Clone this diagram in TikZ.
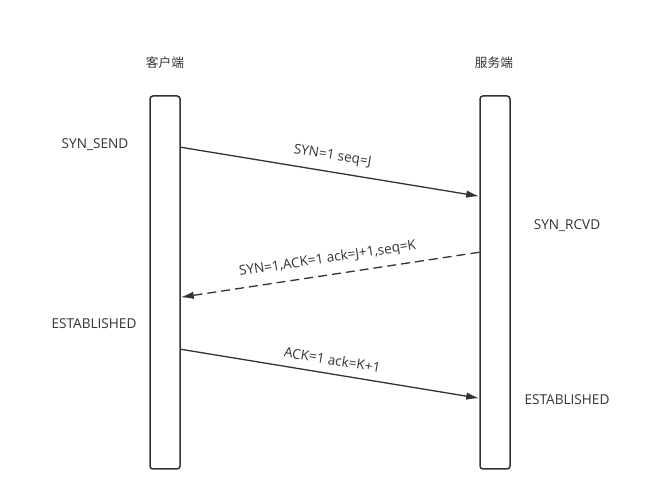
\documentclass[tikz,border=0pt]{standalone}
\usepackage{fontspec}
\setmainfont{Open Sans}
\newfontfamily\cjk{Noto Sans CJK SC}
\usetikzlibrary{arrows.meta}
\definecolor{ink}{HTML}{333333}
\tikzset{
  lifeline/.style = {draw = ink, line width = 1.5pt, rounded corners = 3pt,
    minimum width = 30pt, minimum height = 373pt, inner sep = 0pt},
  msg/.style = {ink, line width = 1.3pt, -{Latex[length = 13pt, width = 7.5pt]}},
  state/.style = {text = ink, font = \fontsize{13.6}{16}\selectfont},
  head/.style = {text = ink, font = \cjk\fontsize{12.7}{15}\selectfont},
  lbl/.style = {text = ink, font = \fontsize{13.6}{16}\selectfont, sloped, above = 5pt}
}

\begin{document}
\begin{tikzpicture}[x = 1pt, y = -1pt]
  \useasboundingbox (0, 0) rectangle (654, 502);
  \node (CT) at (165, 63) [head] {客户端};
  \node (ST) at (494, 63) [head] {服务端};
  \node (CL) at (165, 282.5) [lifeline] {};
  \node (SL) at (495, 282.5) [lifeline] {};
  \node (CA) at (95, 145) [state] {SYN\_SEND};
  \node (SA) at (567, 226) [state] {SYN\_RCVD};
  \node (CB) at (94, 324) [state] {ESTABLISHED};
  \node (SB) at (567, 400) [state] {ESTABLISHED};
  \draw [msg] ([yshift = -52pt] CL.north east) -- node [lbl] {SYN=1 seq=J} ([yshift = -101pt] SL.north west);
  \draw [msg, dash pattern = on 9pt off 5pt] ([yshift = -157pt] SL.north west) -- node [lbl] {SYN=1,ACK=1 ack=J+1,seq=K} ([yshift = -202pt] CL.north east);
  \draw [msg] ([yshift = -254pt] CL.north east) -- node [lbl] {ACK=1 ack=K+1} ([yshift = -303pt] SL.north west);
\end{tikzpicture}
\end{document}
